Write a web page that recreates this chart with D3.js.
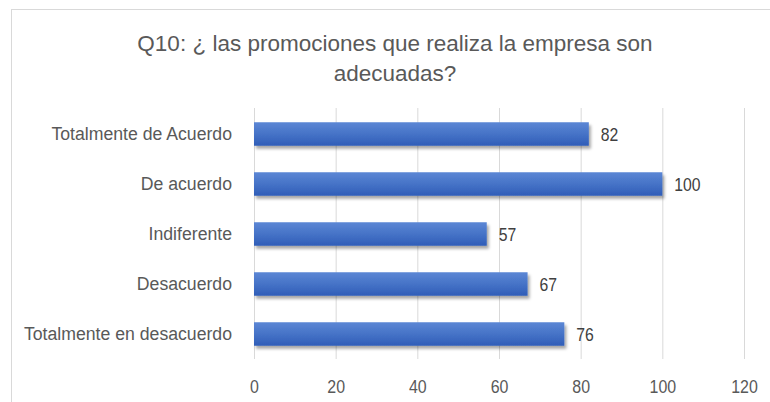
<!DOCTYPE html>
<html>
<head>
<meta charset="utf-8">
<script src="https://cdn.jsdelivr.net/npm/d3@7"></script>
<style>
  html, body { margin: 0; padding: 0; background: #fff; }
  svg { display: block; }
  text { font-family: "Liberation Sans", Arial, sans-serif; }
</style>
</head>
<body>
<svg id="chart" width="770" height="402"></svg>
<script>
const titleLines = ["Q10: ¿ las promociones que realiza la empresa son", "adecuadas?"];
const categories = ["Totalmente de Acuerdo", "De acuerdo", "Indiferente", "Desacuerdo", "Totalmente en desacuerdo"];
const values = [82, 100, 57, 67, 76];
const tickValues = [0, 20, 40, 60, 80, 100, 120];

const svg = d3.select("#chart");
const W = 770, H = 402;

// chart frame
svg.append("rect")
  .attr("x", 11.5).attr("y", 9.5)
  .attr("width", W + 20).attr("height", H + 20)
  .attr("fill", "#fff").attr("stroke", "#d9d9d9").attr("stroke-width", 1);

const defs = svg.append("defs");
const grad = defs.append("linearGradient").attr("id", "barFill")
  .attr("x1", 0).attr("y1", 0).attr("x2", 0).attr("y2", 1);
grad.append("stop").attr("offset", "0%").attr("stop-color", "#5c87d5");
grad.append("stop").attr("offset", "50%").attr("stop-color", "#4673c7");
grad.append("stop").attr("offset", "100%").attr("stop-color", "#2f5db8");

const shadow = defs.append("filter").attr("id", "barShadow")
  .attr("x", "-5%").attr("y", "-30%").attr("width", "115%").attr("height", "180%");
shadow.append("feDropShadow")
  .attr("dx", 2).attr("dy", 3).attr("stdDeviation", 1.6)
  .attr("flood-color", "#000").attr("flood-opacity", 0.35);

const plot = { left: 254, right: 744, top: 109, bottom: 359 };

const x = d3.scaleLinear().domain([0, 120]).range([plot.left, plot.right]);
const y = d3.scaleBand().domain(categories).range([plot.top, plot.bottom]).paddingInner(0.53).paddingOuter(0.265);

// title
svg.append("g")
  .selectAll("text").data(titleLines).join("text")
  .attr("x", 395).attr("y", (d, i) => 51 + i * 30)
  .attr("text-anchor", "middle")
  .attr("font-size", 22.5)
  .attr("fill", "#595959")
  .text(d => d);

// vertical gridlines
svg.append("g")
  .selectAll("line").data(tickValues).join("line")
  .attr("x1", d => x(d) + 0.5).attr("x2", d => x(d) + 0.5)
  .attr("y1", 108).attr("y2", 359)
  .attr("stroke", "#d9d9d9").attr("stroke-width", 1);

// x-axis tick labels (condensed)
const xAxis = d3.axisBottom(x).tickValues(tickValues).tickSize(0).tickPadding(0);
const gx = svg.append("g").attr("transform", "translate(0,393)").call(xAxis);
gx.select(".domain").remove();
gx.selectAll("text")
  .attr("font-size", 19).attr("fill", "#595959").attr("dy", 0).attr("y", 0)
  .attr("transform", "scale(0.84,1)")
  .style("font-family", '"Liberation Sans", Arial, sans-serif');

// category labels (condensed)
const yAxis = d3.axisLeft(y).tickSize(0).tickPadding(0);
const gy = svg.append("g").attr("transform", "translate(232,0)").call(yAxis);
gy.select(".domain").remove();
gy.selectAll("text")
  .attr("font-size", 19).attr("fill", "#595959")
  .attr("transform", "scale(0.93,1)")
  .style("font-family", '"Liberation Sans", Arial, sans-serif');

// bars
svg.append("g")
  .selectAll("rect").data(values).join("rect")
  .attr("x", x(0))
  .attr("y", (d, i) => y(categories[i]))
  .attr("width", d => x(d) - x(0))
  .attr("height", y.bandwidth())
  .attr("fill", "url(#barFill)")
  .attr("filter", "url(#barShadow)");

// value labels (condensed)
svg.append("g")
  .selectAll("text").data(values).join("text")
  .attr("transform", (d, i) => `translate(${x(d) + 12},${y(categories[i]) + y.bandwidth() / 2}) scale(0.83,1)`)
  .attr("dy", "0.35em")
  .attr("font-size", 19)
  .attr("fill", "#404040")
  .text(d => d);
</script>
</body>
</html>
